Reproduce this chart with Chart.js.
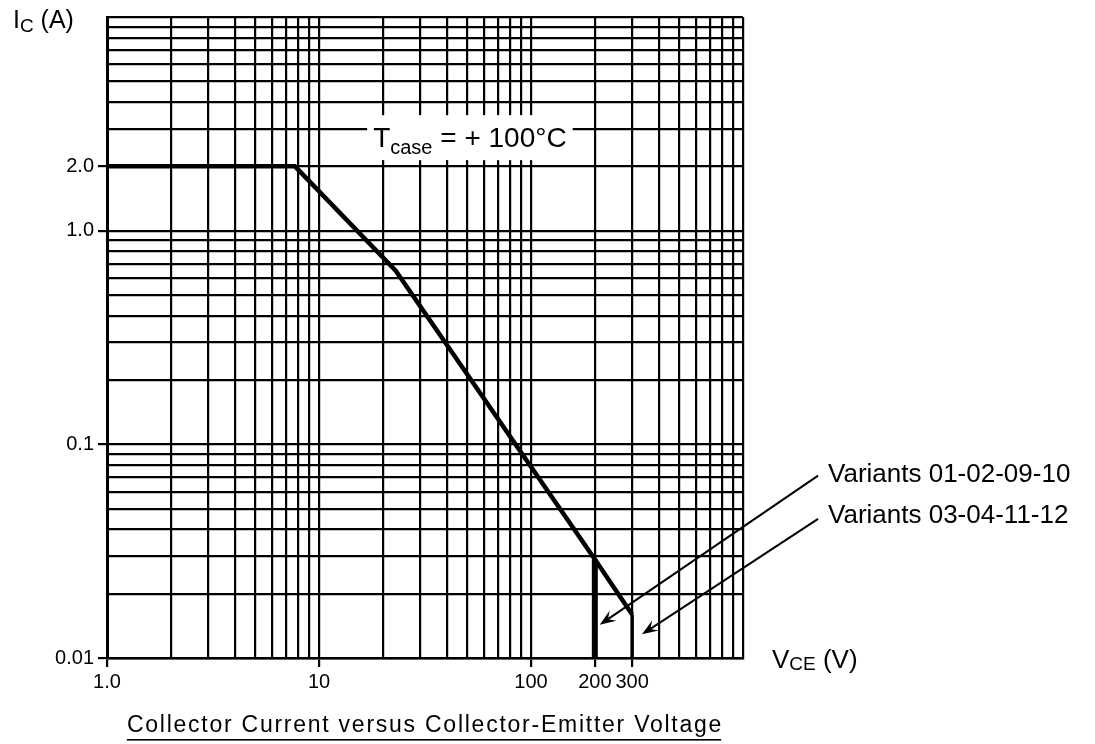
<!DOCTYPE html>
<html>
<head>
<meta charset="utf-8">
<title>Collector Current versus Collector-Emitter Voltage</title>
<script src="https://cdn.jsdelivr.net/npm/chart.js@4.4.1/dist/chart.umd.min.js"></script>
<style>
  html,body{margin:0;padding:0;background:#fff;}
  #wrap{width:1095px;height:744px;position:relative;}
</style>
</head>
<body>
<div id="wrap"><canvas id="soaChart"></canvas></div>
<script>
// ---------- DATA ----------
// safe operating limit at Tcase = +100°C
const VCE_LIMIT = [1, 7.7, 23, 200, 300];
const IC_LIMIT  = [2.0, 2.0, 0.65, 0.029, 0.016];
// voltage cut-offs of the two variant groups
const VCE_CUT_200 = [200, 200];
const IC_CUT_200  = [0.029, 0.01];
const VCE_CUT_300 = [300, 300];
const IC_CUT_300  = [0.016, 0.01];

const X_TICK_VALUES = [1, 10, 100, 200, 300];
const X_TICK_TEXT   = ["1.0", "10", "100", "200", "300"];
const Y_TICK_VALUES = [0.01, 0.1, 1, 2];
const Y_TICK_TEXT   = ["0.01", "0.1", "1.0", "2.0"];

const VARIANT_LABELS = ["Variants 01-02-09-10", "Variants 03-04-11-12"];

// ---------- ANNOTATION ANCHORS (data units) ----------
const TCASE_AT = [51.5, 2.46];                       // centre x, baseline y
const ARROWS = [
  { from:[2260, 0.0714], to:[211, 0.0143] },
  { from:[2260, 0.0448], to:[334, 0.0129] }
];
const VARIANT_TEXT_AT = [[2518, 0.0668], [2518, 0.0428]];

const FONT = "'Liberation Sans', Arial, Helvetica, sans-serif";

// ---------- HELPERS ----------
function logGrid(min, max){
  const out = [];
  for(let d=min; d<max*0.999; d*=10){
    for(let m=1; m<10; m++) out.push(+(m*d).toPrecision(3));
  }
  out.push(max);
  return out;
}
function findTick(v, values){
  return values.findIndex(t => Math.abs(Math.log10(v)-Math.log10(t)) < 1e-6);
}
function tickText(v, values, texts){
  const i = findTick(v, values);
  return i >= 0 ? texts[i] : "";
}
function tickColor(c, values){
  return (c.tick && findTick(c.tick.value, values) >= 0) ? "#000" : "rgba(0,0,0,0)";
}
function pts(xs, ys){ return xs.map((x,i)=>({x:x, y:ys[i]})); }

const X_GRID = logGrid(1, 1000);
const Y_GRID = logGrid(0.01, 10);

function drawArrow(ctx, x1, y1, x2, y2){
  const a = Math.atan2(y2-y1, x2-x1);
  const L = 16, W = 6, N = 10;
  ctx.beginPath();
  ctx.moveTo(x1, y1);
  ctx.lineTo(x2 - Math.cos(a)*N, y2 - Math.sin(a)*N);
  ctx.stroke();
  ctx.beginPath();
  ctx.moveTo(x2, y2);
  ctx.lineTo(x2 - Math.cos(a)*L + Math.sin(a)*W, y2 - Math.sin(a)*L - Math.cos(a)*W);
  ctx.lineTo(x2 - Math.cos(a)*N, y2 - Math.sin(a)*N);
  ctx.lineTo(x2 - Math.cos(a)*L - Math.sin(a)*W, y2 - Math.sin(a)*L + Math.cos(a)*W);
  ctx.closePath();
  ctx.fill();
}

// text with a subscript part: parts = [[text, size, dy], ...]
function drawParts(ctx, parts, x, y){
  let cx = x;
  parts.forEach(p=>{
    ctx.font = `${p[1]}px ${FONT}`;
    ctx.fillText(p[0], cx, y + p[2]);
    cx += ctx.measureText(p[0]).width;
  });
  return cx - x;
}
function partsWidth(ctx, parts){
  let w = 0;
  parts.forEach(p=>{ ctx.font = `${p[1]}px ${FONT}`; w += ctx.measureText(p[0]).width; });
  return w;
}

// ---------- ANNOTATION PLUGIN ----------
const annotations = {
  id: "annotations",
  afterDraw(chart){
    const ctx = chart.ctx, xs = chart.scales.x, ys = chart.scales.y, area = chart.chartArea;
    ctx.save();
    ctx.fillStyle = "#000";
    ctx.strokeStyle = "#000";
    ctx.textBaseline = "alphabetic";
    ctx.textAlign = "left";

    // Tcase label on a white box
    const tParts = [["T",28,0],["case",20,7],[" = + 100\u00B0C",28,0]];
    const tw = partsWidth(ctx, tParts);
    const tcx = xs.getPixelForValue(TCASE_AT[0]);
    const tby = ys.getPixelForValue(TCASE_AT[1]);
    ctx.fillStyle = "#fff";
    ctx.fillRect(tcx - tw/2 - 6, tby - 32, tw + 12, 45);
    ctx.fillStyle = "#000";
    drawParts(ctx, tParts, tcx - tw/2, tby);

    // arrows to the cut-off lines
    ctx.lineWidth = 2;
    ARROWS.forEach(a=>{
      drawArrow(ctx,
        xs.getPixelForValue(a.from[0]), ys.getPixelForValue(a.from[1]),
        xs.getPixelForValue(a.to[0]),   ys.getPixelForValue(a.to[1]));
    });

    // variant labels
    ctx.font = `26px ${FONT}`;
    VARIANT_LABELS.forEach((t,i)=>{
      ctx.fillText(t, xs.getPixelForValue(VARIANT_TEXT_AT[i][0]), ys.getPixelForValue(VARIANT_TEXT_AT[i][1]));
    });

    // axis titles
    drawParts(ctx, [["I",25,0],["C",19,4],[" (A)",25,0]], area.left - 94, area.top + 11);
    drawParts(ctx, [["V",26,0],["CE",19,2],[" (V)",26,0]], area.right + 29, area.bottom + 10);

    // caption, underlined, centred under the plot
    const cap = "Collector Current versus Collector-Emitter Voltage";
    ctx.font = `23px ${FONT}`;
    ctx.letterSpacing = "1.75px";
    const cw = ctx.measureText(cap).width;
    const cx0 = (area.left + area.right)/2 - cw/2;
    ctx.fillText(cap, cx0, 732);
    ctx.letterSpacing = "0px";
    ctx.fillRect(cx0, 739, cw - 2, 1.6);

    ctx.restore();
  }
};

// ---------- CHART ----------
const lineStyle = { showLine:true, pointRadius:0, borderColor:"#000", backgroundColor:"#000", fill:false, tension:0 };

new Chart(document.getElementById("soaChart"), {
  type: "scatter",
  data: {
    datasets: [
      { ...lineStyle, label:"Limit", data:pts(VCE_LIMIT, IC_LIMIT), borderWidth:4.5 },
      { ...lineStyle, label:"200 V", data:pts(VCE_CUT_200, IC_CUT_200), borderWidth:6 },
      { ...lineStyle, label:"300 V", data:pts(VCE_CUT_300, IC_CUT_300), borderWidth:3.5 }
    ]
  },
  options: {
    responsive: true,
    maintainAspectRatio: false,
    animation: false,
    layout: { padding: { left:0, right:352, top:17, bottom:0 } },
    plugins: { legend:{ display:false }, tooltip:{ enabled:false }, title:{ display:false } },
    scales: {
      x: {
        type: "logarithmic", min:1, max:1000,
        afterBuildTicks: s => { s.ticks = X_GRID.map(v=>({value:v})); },
        afterFit: s => { s.height = 86; },
        ticks: { autoSkip:false, maxRotation:0, color:"#000", padding:3,
                 font:{ family:FONT, size:20 },
                 callback: v => tickText(v, X_TICK_VALUES, X_TICK_TEXT) },
        grid: { color:"#000", lineWidth:2.2, tickLength:9, tickWidth:2.2,
                tickColor: c => tickColor(c, X_TICK_VALUES) },
        border: { display:true, color:"#000", width:2.6 }
      },
      y: {
        type: "logarithmic", min:0.01, max:10,
        afterBuildTicks: s => { s.ticks = Y_GRID.map(v=>({value:v})); },
        afterFit: s => { s.width = 107; },
        ticks: { autoSkip:false, color:"#000", padding:4,
                 font:{ family:FONT, size:20 },
                 callback: v => tickText(v, Y_TICK_VALUES, Y_TICK_TEXT) },
        grid: { color:"#000", lineWidth:2.2, tickLength:9, tickWidth:2.2,
                tickColor: c => tickColor(c, Y_TICK_VALUES) },
        border: { display:true, color:"#000", width:3 }
      }
    }
  },
  plugins: [annotations]
});
</script>
</body>
</html>
